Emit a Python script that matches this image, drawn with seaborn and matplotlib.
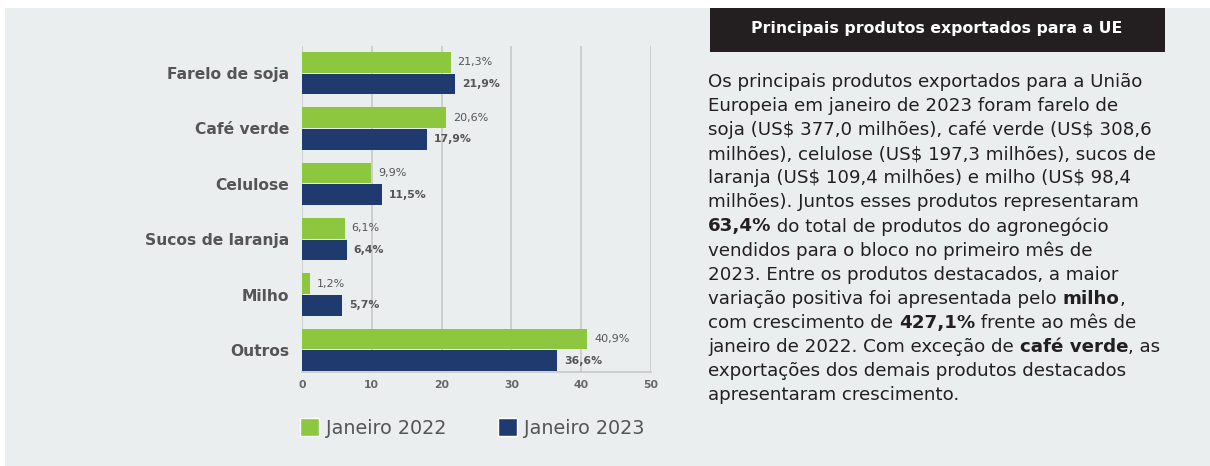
import matplotlib
matplotlib.use("Agg")
import matplotlib.pyplot as plt
import matplotlib.patches as mpatches
import seaborn as sns
import pandas as pd

categories = ["Farelo de soja", "Café verde", "Celulose", "Sucos de laranja", "Milho", "Outros"]
jan_2022 = [21.3, 20.6, 9.9, 6.1, 1.2, 40.9]
jan_2023 = [21.9, 17.9, 11.5, 6.4, 5.7, 36.6]
series_names = ["Janeiro 2022", "Janeiro 2023"]
x_ticks = [0, 10, 20, 30, 40, 50]

title_box = "Principais produtos exportados para a UE"
para_lines = [
    [("Os principais produtos exportados para a União", False)],
    [("Europeia em janeiro de 2023 foram farelo de", False)],
    [("soja (US$ 377,0 milhões), café verde (US$ 308,6", False)],
    [("milhões), celulose (US$ 197,3 milhões), sucos de", False)],
    [("laranja (US$ 109,4 milhões) e milho (US$ 98,4", False)],
    [("milhões). Juntos esses produtos representaram", False)],
    [("63,4%", True), (" do total de produtos do agronegócio", False)],
    [("vendidos para o bloco no primeiro mês de", False)],
    [("2023. Entre os produtos destacados, a maior", False)],
    [("variação positiva foi apresentada pelo ", False), ("milho", True), (",", False)],
    [("com crescimento de ", False), ("427,1%", True), (" frente ao mês de", False)],
    [("janeiro de 2022. Com exceção de ", False), ("café verde", True), (", as", False)],
    [("exportações dos demais produtos destacados", False)],
    [("apresentaram crescimento.", False)],
]

GREEN = "#8DC63F"
NAVY = "#1F3A6E"
BG = "#EAEEEF"
GREY = "#555555"
FONT = ["DejaVu Sans"]

df = pd.DataFrame({
    "categoria": categories * 2,
    "valor": jan_2022 + jan_2023,
    "serie": [series_names[0]] * len(categories) + [series_names[1]] * len(categories),
})

sns.set_theme(style="white")
plt.rcParams["font.family"] = FONT
plt.rcParams["text.parse_math"] = False

W, H = 1210, 466
fig = plt.figure(figsize=(W / 100, H / 100), dpi=100)
fig.patch.set_facecolor("white")
renderer = fig.canvas.get_renderer()


def fit(text, weight, target_px):
    t = fig.text(0, 0, text, fontsize=10, fontweight=weight)
    w = t.get_window_extent(renderer=renderer).width
    t.remove()
    return 10 * target_px / w


fs_cat = fit("Farelo de soja", "bold", 123)
fs_val = fit("21,3%", "normal", 35)
fs_valb = fit("21,9%", "bold", 38)
fs_tick = fit("50", "bold", 15)
fs_leg = fit("Janeiro 2022", "normal", 120)
fs_head = fit(title_box, "bold", 370)
fs_par = fit(para_lines[2][0][0], "normal", 444)

fig.patches.append(mpatches.Rectangle((5 / W, 0), 1 - 5 / W, 1 - 8 / H, transform=fig.transFigure,
                                      facecolor=BG, edgecolor="none", zorder=-10))
fig.patches.append(mpatches.Rectangle((710 / W, 1 - 52 / H), 455 / W, 44 / H, transform=fig.transFigure,
                                      facecolor="#231F20", edgecolor="none", zorder=-5))

ax = fig.add_axes([302 / W, 1 - 372 / H, (651 - 302) / W, (372 - 46) / H])
ax.set_facecolor(BG)
sns.barplot(data=df, y="categoria", x="valor", hue="serie", orient="h",
            palette=[GREEN, NAVY], width=0.78, ax=ax, legend=False, saturation=1,
            linewidth=0, edgecolor="none")
for p in ax.patches:
    h = p.get_height()
    p.set_height(h * 0.95)
    p.set_y(p.get_y() + h * 0.025)

ax.set_xlim(0, 50)
ax.set_ylim(5.4, -0.49)
ax.set_xticks(x_ticks)
ax.set_xticklabels([str(t) for t in x_ticks], fontsize=fs_tick, fontweight="bold", color="#666666")
ax.tick_params(axis="x", length=0, pad=6)
ax.tick_params(axis="y", length=0, pad=9)
for lbl in ax.get_yticklabels():
    lbl.set_fontsize(fs_cat)
    lbl.set_fontweight("bold")
    lbl.set_color(GREY)
ax.set_xlabel("")
ax.set_ylabel("")
ax.grid(axis="x", color="#C8C8C8", linewidth=1.2)
ax.set_axisbelow(True)
for s in ["top", "right", "left"]:
    ax.spines[s].set_visible(False)
ax.spines["bottom"].set_color("#C8C8C8")
ax.spines["bottom"].set_linewidth(1.2)

for i, cont in enumerate(ax.containers):
    vals = [jan_2022, jan_2023][i]
    labels = [f"{v:.1f}".replace(".", ",") + "%" for v in vals]
    ax.bar_label(cont, labels=labels, padding=5, fontsize=fs_valb if i == 1 else fs_val,
                 fontweight="bold" if i == 1 else "normal", color=GREY)

# legend geometry in pixels -> font units
px_per_em = fs_leg * 100 / 72
handles = [mpatches.Patch(facecolor=GREEN, label=series_names[0]),
           mpatches.Patch(facecolor=NAVY, label=series_names[1])]
leg = fig.legend(handles=handles, loc="center left", bbox_to_anchor=(300 / W, 1 - 428 / H),
                 ncol=2, frameon=False, fontsize=fs_leg, handlelength=19 / px_per_em,
                 handleheight=19 / px_per_em, columnspacing=52 / px_per_em,
                 handletextpad=7 / px_per_em, borderpad=0, borderaxespad=0)
for t in leg.get_texts():
    t.set_color(GREY)

fig.text(937 / W, 1 - 28 / H, title_box, color="white", fontsize=fs_head, fontweight="bold",
         ha="center", va="center")

x0 = 708
y_first = 82
step = 24.08
for li, segs in enumerate(para_lines):
    x = x0
    y = y_first + li * step
    for text, bold in segs:
        t = fig.text(x / W, 1 - y / H, text, fontsize=fs_par, color="#231F20",
                     fontweight="bold" if bold else "normal", va="center", ha="left")
        bb = t.get_window_extent(renderer=renderer)
        x += bb.width

fig.savefig("out.png", dpi=100, facecolor=fig.get_facecolor())
